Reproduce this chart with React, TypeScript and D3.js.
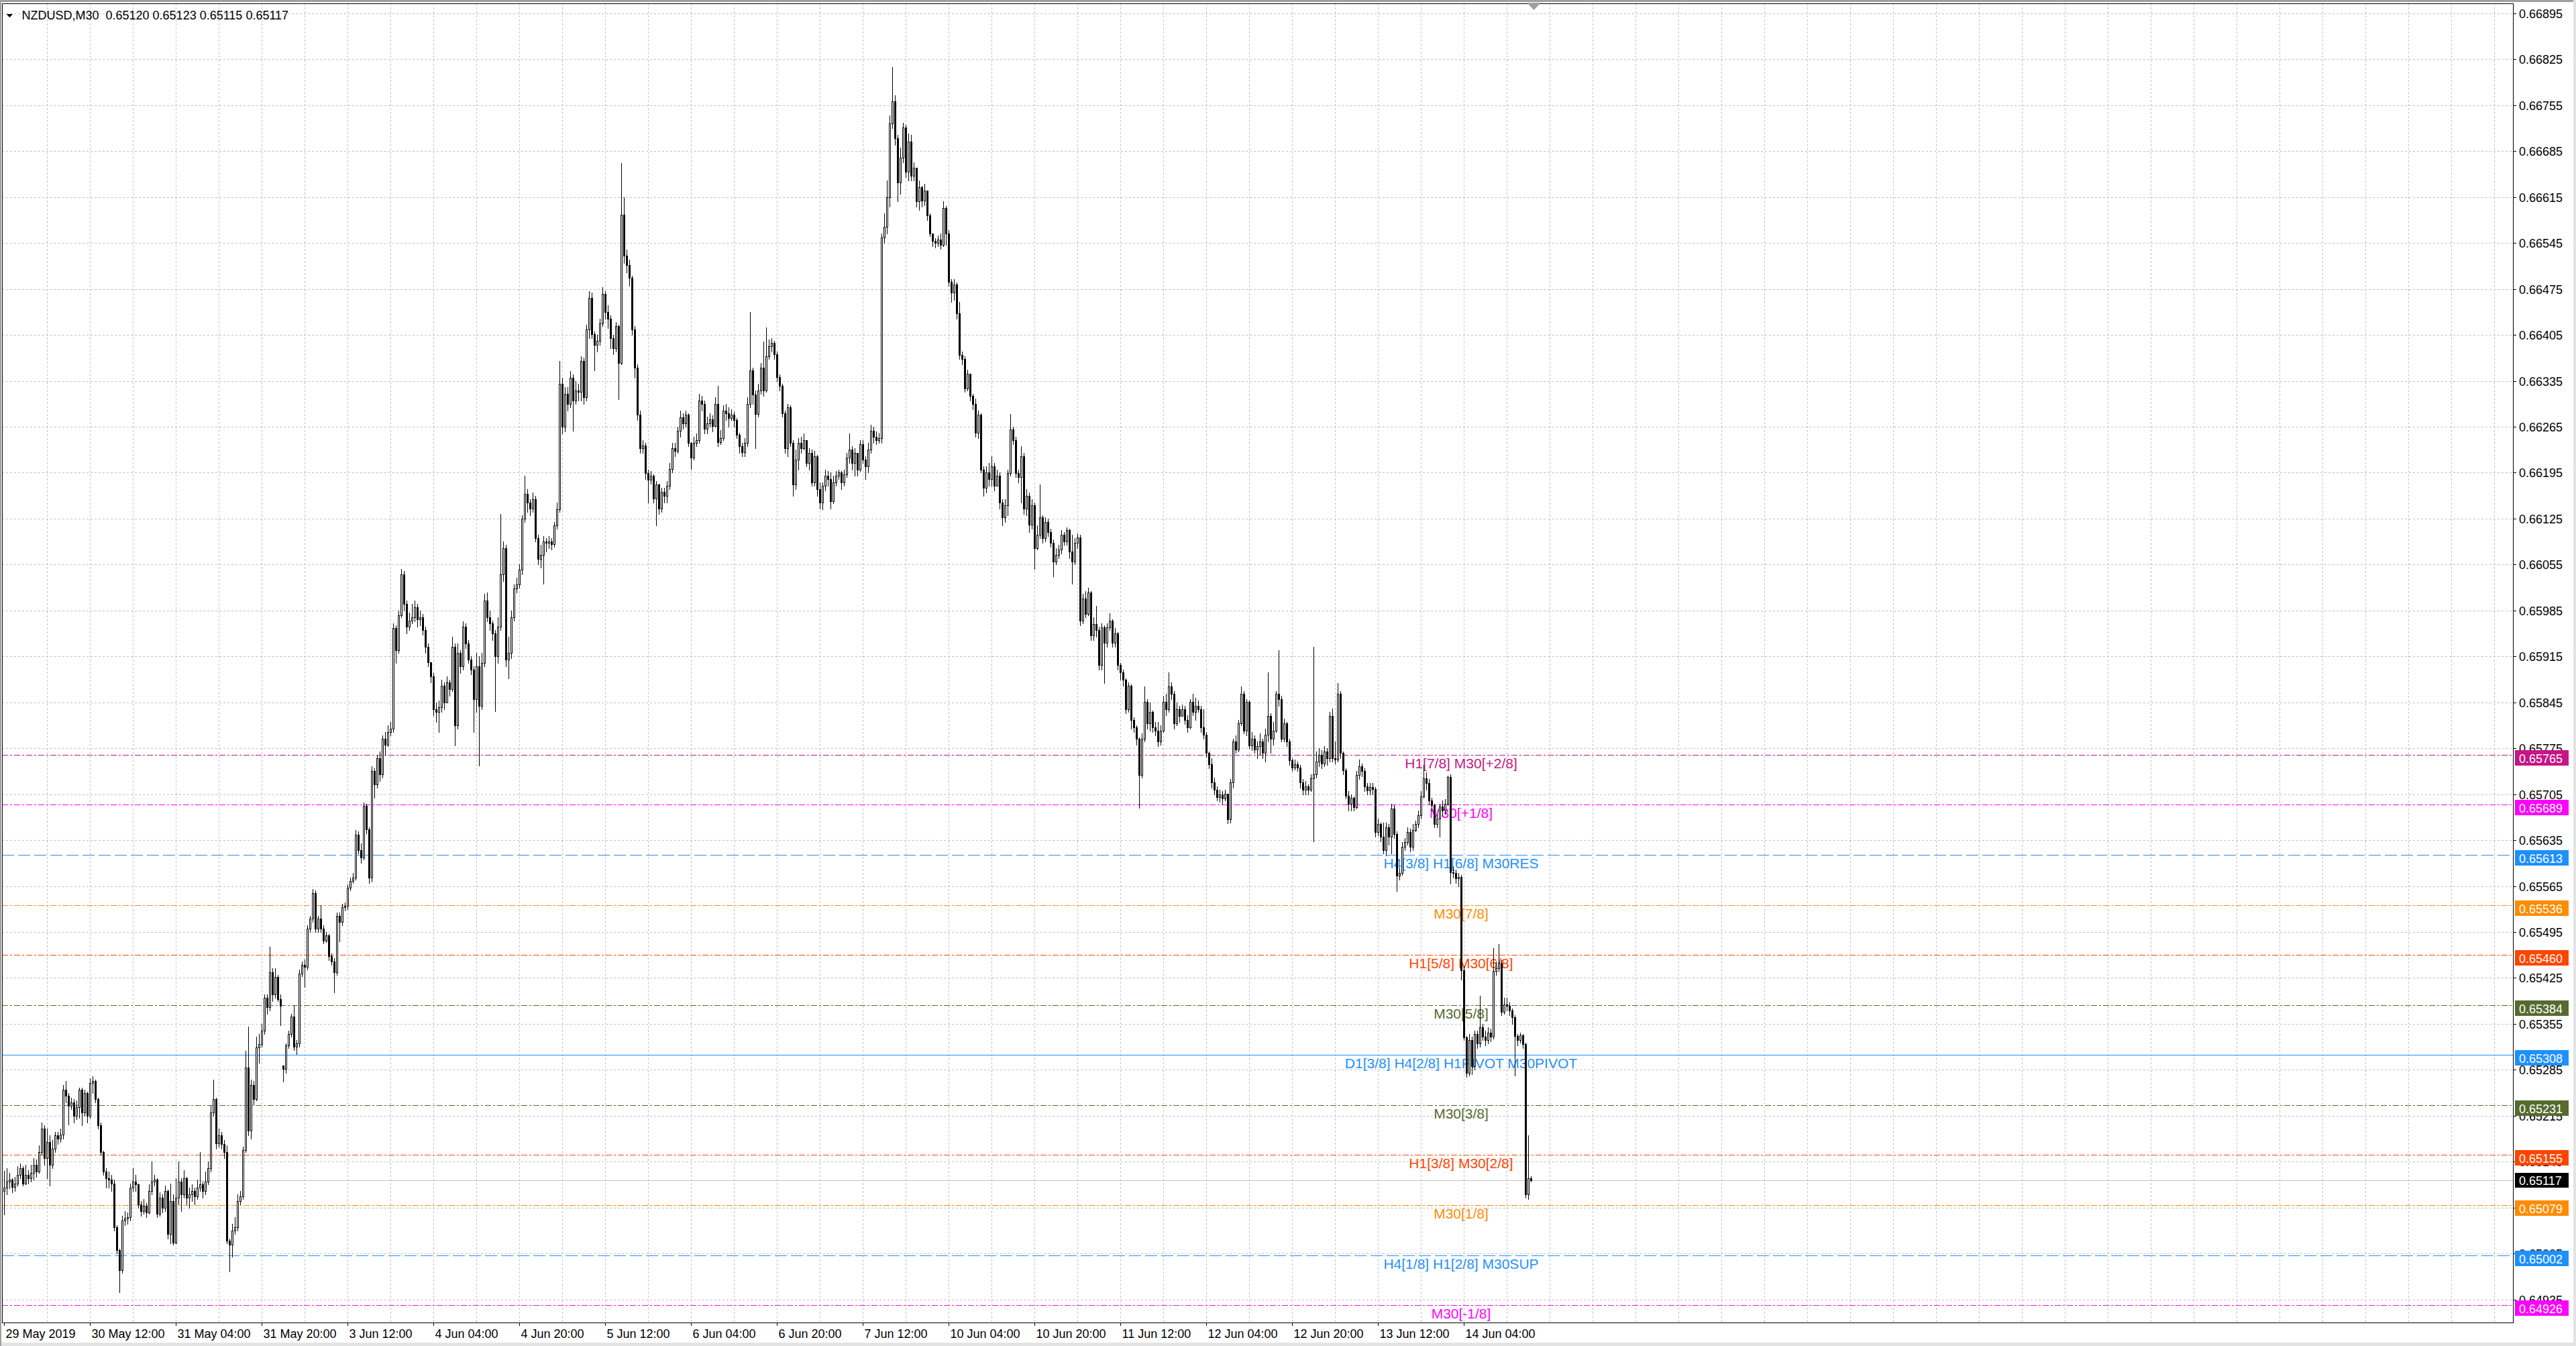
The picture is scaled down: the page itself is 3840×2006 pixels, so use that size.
import React from "react";
import * as d3 from "d3";

// ---- quote header ----
const symbol = "NZDUSD,M30";
const lastQuote = ["0.65120", "0.65123", "0.65115", "0.65117"];

// ---- M30 bars: [high, low, close] in points (0.00001) above 0.65000, one list per session ----
const BASE = 0.65;
const PT = 0.00001;
type HLC = [number, number, number];

const may29: HLC[] = [
  [131, 64, 105], [135, 95, 115], [128, 104, 118], [120, 98, 106], [122, 100, 112], [138, 108, 125], [142, 120, 135], [138, 108, 112],
];
const may30: HLC[] = [
  [140, 110, 125], [132, 112, 120], [140, 115, 128], [150, 118, 140], [148, 122, 130], [170, 128, 160], [205, 155, 195], [200, 140, 150],
  [195, 120, 175], [185, 108, 140], [178, 135, 165], [190, 160, 185], [190, 172, 180], [195, 175, 186], [262, 180, 255], [268, 235, 245],
  [250, 202, 230], [242, 225, 235], [240, 205, 215], [238, 210, 228], [258, 212, 255], [258, 200, 220], [255, 215, 250], [252, 205, 215],
  [272, 212, 265], [275, 250, 268], [270, 235, 240], [242, 195, 200], [205, 155, 160], [162, 125, 130], [135, 105, 120], [130, 105, 118],
  [125, 100, 112], [118, 40, 45], [48, 5, 10], [12, -54, -20], [62, -25, 55], [70, 48, 58], [68, 50, 60], [112, 55, 105],
  [135, 100, 115], [125, 100, 110], [112, 75, 80], [85, 62, 70], [88, 65, 78], [82, 60, 68], [110, 65, 100], [145, 95, 115],
];
const may31: HLC[] = [
  [125, 108, 118], [120, 60, 66], [98, 62, 90], [95, 68, 75], [108, 70, 100], [102, 28, 35], [112, 20, 85], [95, 18, 22],
  [120, 20, 90], [145, 80, 115], [120, 70, 95], [132, 90, 120], [122, 80, 90], [105, 75, 95], [110, 85, 100], [105, 80, 92],
  [118, 88, 105], [160, 100, 110], [115, 90, 100], [130, 95, 115], [145, 110, 135], [230, 130, 220], [270, 215, 240], [242, 165, 173],
  [195, 168, 185], [190, 165, 172], [178, 150, 160], [170, 20, 25], [28, -22, 18], [50, 0, 40], [60, 35, 45], [95, 40, 85],
  [100, 80, 92], [168, 88, 163], [314, 160, 288], [351, 185, 192], [270, 180, 262], [268, 232, 240], [335, 238, 319], [340, 296, 324],
  [355, 320, 345], [400, 340, 395], [400, 370, 380], [473, 375, 434], [440, 390, 400], [440, 395, 426], [430, 390, 393], [400, 353, 382],
];
const jun03: HLC[] = [
  [292, 267, 286], [325, 280, 322], [345, 318, 340], [370, 335, 366], [382, 315, 320], [330, 309, 325], [438, 320, 432], [450, 428, 445],
  [453, 411, 442], [505, 438, 500], [520, 495, 515], [560, 510, 554], [558, 495, 500], [520, 495, 515], [536, 495, 500], [505, 478, 482],
  [495, 480, 490], [492, 452, 458], [462, 445, 450], [455, 403, 434], [525, 430, 520], [525, 481, 510], [538, 505, 533], [540, 528, 535],
  [568, 530, 562], [578, 558, 573], [585, 570, 578], [650, 575, 643], [648, 615, 620], [630, 600, 609], [692, 605, 687], [690, 645, 651],
  [655, 570, 578], [748, 572, 740], [745, 700, 720], [765, 715, 760], [770, 725, 735], [795, 730, 790], [800, 765, 780], [810, 778, 800],
  [815, 795, 805], [965, 800, 958], [962, 905, 925], [985, 920, 978], [1048, 975, 1040], [1045, 985, 995], [1000, 950, 960], [982, 955, 970],
];
const jun04: HLC[] = [
  [995, 965, 975], [1000, 968, 990], [995, 960, 972], [985, 962, 975], [980, 948, 955], [960, 920, 930], [935, 900, 906], [905, 875, 885],
  [890, 825, 835], [845, 815, 830], [848, 800, 838], [880, 830, 870], [875, 835, 845], [885, 845, 875], [880, 855, 865], [945, 862, 930],
  [935, 779, 810], [935, 805, 920], [925, 890, 900], [968, 895, 960], [965, 928, 935], [940, 905, 910], [915, 888, 895], [900, 800, 850],
  [920, 830, 900], [915, 749, 840], [920, 835, 905], [1010, 900, 1000], [1012, 968, 975], [985, 955, 965], [970, 940, 950], [955, 831, 915],
  [975, 905, 960], [1132, 955, 1040], [1090, 1030, 1080], [1085, 900, 910], [945, 882, 920], [985, 912, 975], [1025, 970, 1019], [1035, 1012, 1025],
  [1055, 1020, 1047], [1130, 1040, 1125], [1190, 1120, 1163], [1170, 1135, 1150], [1155, 1130, 1140], [1165, 1135, 1155], [1160, 1090, 1095], [1100, 1055, 1064],
];
const jun05: HLC[] = [
  [1085, 1050, 1070], [1098, 1026, 1090], [1095, 1075, 1088], [1098, 1080, 1090], [1095, 1078, 1086], [1120, 1082, 1115], [1150, 1110, 1139], [1365, 1135, 1331],
  [1340, 1255, 1265], [1325, 1258, 1315], [1325, 1290, 1300], [1350, 1295, 1340], [1345, 1259, 1305], [1335, 1300, 1320], [1330, 1305, 1318], [1372, 1305, 1365],
  [1370, 1300, 1310], [1420, 1305, 1413], [1472, 1400, 1461], [1470, 1400, 1406], [1410, 1351, 1390], [1405, 1380, 1396], [1430, 1390, 1423], [1478, 1418, 1468],
  [1472, 1430, 1440], [1450, 1415, 1430], [1435, 1385, 1400], [1405, 1375, 1385], [1425, 1380, 1418], [1420, 1307, 1362], [1667, 1360, 1588], [1615, 1515, 1526],
  [1535, 1500, 1512], [1520, 1480, 1492], [1495, 1405, 1413], [1418, 1340, 1355], [1360, 1275, 1283], [1290, 1225, 1232], [1245, 1225, 1236], [1240, 1185, 1194],
  [1200, 1150, 1184], [1198, 1178, 1190], [1192, 1150, 1156], [1182, 1115, 1177], [1178, 1132, 1140], [1172, 1135, 1166], [1172, 1150, 1160], [1182, 1150, 1175],
];
const jun06: HLC[] = [
  [1210, 1170, 1201], [1240, 1195, 1232], [1240, 1220, 1228], [1265, 1225, 1259], [1290, 1250, 1279], [1285, 1262, 1270], [1290, 1265, 1283], [1285, 1235, 1240],
  [1242, 1201, 1218], [1250, 1215, 1240], [1255, 1235, 1245], [1315, 1240, 1305], [1312, 1290, 1300], [1305, 1255, 1262], [1280, 1255, 1270], [1285, 1265, 1276],
  [1282, 1258, 1266], [1310, 1265, 1300], [1327, 1235, 1242], [1260, 1238, 1248], [1298, 1245, 1290], [1300, 1275, 1286], [1295, 1265, 1278], [1292, 1275, 1283],
  [1288, 1265, 1275], [1278, 1248, 1253], [1256, 1225, 1235], [1240, 1220, 1226], [1248, 1220, 1240], [1310, 1235, 1300], [1440, 1295, 1351], [1355, 1300, 1314],
  [1320, 1232, 1284], [1330, 1280, 1320], [1362, 1315, 1355], [1395, 1312, 1320], [1416, 1318, 1372], [1398, 1368, 1388], [1400, 1380, 1393], [1396, 1368, 1375],
  [1380, 1335, 1341], [1345, 1320, 1327], [1330, 1280, 1286], [1290, 1225, 1232], [1300, 1220, 1295], [1298, 1235, 1240], [1245, 1160, 1177], [1230, 1170, 1215],
];
const jun07: HLC[] = [
  [1248, 1200, 1240], [1250, 1225, 1232], [1255, 1230, 1245], [1240, 1205, 1210], [1232, 1200, 1225], [1230, 1175, 1180], [1228, 1175, 1220], [1222, 1160, 1170],
  [1180, 1140, 1150], [1180, 1139, 1175], [1200, 1168, 1190], [1198, 1175, 1185], [1195, 1140, 1152], [1190, 1148, 1180], [1198, 1175, 1190], [1200, 1185, 1195],
  [1198, 1170, 1180], [1200, 1175, 1192], [1225, 1188, 1218], [1255, 1210, 1230], [1235, 1200, 1210], [1232, 1190, 1225], [1225, 1190, 1200], [1245, 1198, 1238],
  [1245, 1210, 1215], [1220, 1185, 1205], [1240, 1195, 1230], [1268, 1225, 1259], [1265, 1240, 1250], [1258, 1238, 1245], [1255, 1240, 1248], [1560, 1240, 1553],
  [1590, 1545, 1570], [1640, 1560, 1615], [1740, 1600, 1727], [1813, 1720, 1761], [1770, 1695, 1705], [1710, 1609, 1637], [1690, 1620, 1675], [1728, 1668, 1721],
  [1725, 1645, 1654], [1712, 1640, 1700], [1710, 1640, 1648], [1668, 1640, 1660], [1645, 1600, 1609], [1640, 1595, 1630], [1632, 1600, 1610], [1635, 1603, 1625],
];
const jun10: HLC[] = [
  [1612, 1580, 1587], [1590, 1555, 1560], [1560, 1540, 1548], [1552, 1538, 1545], [1556, 1540, 1550], [1560, 1536, 1542], [1609, 1540, 1598], [1602, 1542, 1560],
  [1565, 1480, 1486], [1490, 1455, 1470], [1490, 1458, 1482], [1485, 1430, 1438], [1455, 1368, 1374], [1380, 1360, 1368], [1372, 1318, 1323], [1352, 1320, 1346],
  [1345, 1305, 1312], [1315, 1292, 1300], [1308, 1250, 1256], [1290, 1248, 1283], [1286, 1195, 1200], [1205, 1160, 1172], [1205, 1165, 1195], [1210, 1175, 1185],
  [1220, 1175, 1205], [1210, 1168, 1175], [1200, 1175, 1190], [1195, 1140, 1149], [1155, 1115, 1127], [1155, 1120, 1145], [1200, 1130, 1194], [1284, 1190, 1261],
  [1265, 1238, 1245], [1250, 1188, 1194], [1200, 1180, 1188], [1235, 1150, 1220], [1225, 1132, 1140], [1170, 1130, 1160], [1165, 1105, 1116], [1155, 1110, 1145],
  [1150, 1048, 1080], [1115, 1078, 1100], [1177, 1095, 1127], [1130, 1088, 1095], [1127, 1090, 1120], [1125, 1098, 1104], [1110, 1082, 1088], [1093, 1037, 1060],
];
const jun11: HLC[] = [
  [1080, 1055, 1070], [1085, 1065, 1078], [1108, 1072, 1100], [1105, 1085, 1090], [1112, 1085, 1108], [1110, 1065, 1075], [1100, 1026, 1060], [1095, 1055, 1088],
  [1102, 1080, 1096], [1100, 962, 970], [1010, 965, 1003], [1015, 975, 980], [1020, 978, 1012], [1015, 940, 947], [975, 940, 964], [992, 945, 955],
  [960, 895, 902], [965, 895, 959], [962, 874, 936], [965, 930, 959], [981, 955, 970], [972, 930, 936], [958, 930, 950], [952, 895, 902],
  [905, 880, 891], [895, 870, 880], [882, 828, 835], [875, 830, 870], [872, 805, 818], [822, 800, 807], [810, 780, 790], [792, 684, 734],
  [798, 730, 790], [869, 785, 846], [850, 805, 813], [845, 802, 830], [832, 800, 807], [815, 795, 802], [815, 778, 785], [810, 780, 802],
  [855, 800, 846], [858, 825, 835], [891, 830, 869], [875, 850, 858], [862, 805, 813], [845, 810, 835], [840, 815, 824], [842, 825, 835],
];
const jun12: HLC[] = [
  [840, 812, 818], [825, 800, 807], [850, 805, 846], [858, 825, 830], [852, 818, 840], [848, 830, 835], [840, 800, 807], [835, 790, 796],
  [800, 762, 768], [770, 745, 751], [760, 715, 723], [730, 705, 712], [717, 695, 701], [712, 693, 705], [710, 690, 698], [712, 695, 706],
  [700, 661, 667], [728, 662, 723], [790, 715, 785], [795, 768, 773], [818, 770, 813], [869, 810, 858], [862, 798, 802], [850, 795, 846],
  [848, 775, 779], [800, 772, 790], [795, 768, 773], [785, 760, 778], [798, 765, 785], [790, 760, 768], [805, 755, 796], [891, 785, 824],
  [828, 768, 790], [815, 780, 802], [862, 800, 858], [925, 840, 850], [855, 785, 790], [820, 785, 813], [815, 778, 785], [790, 750, 757],
  [760, 740, 746], [758, 742, 751], [755, 740, 746], [750, 715, 723], [728, 705, 712], [725, 705, 717], [720, 705, 712], [735, 710, 729],
];
const jun13: HLC[] = [
  [930, 633, 735], [770, 730, 755], [775, 748, 765], [772, 745, 752], [778, 748, 770], [775, 750, 760], [830, 755, 824], [836, 755, 760],
  [785, 752, 758], [874, 755, 858], [862, 760, 768], [770, 735, 741], [745, 698, 703], [710, 680, 690], [705, 680, 700], [702, 680, 685],
  [740, 683, 734], [758, 728, 748], [752, 732, 740], [745, 710, 717], [722, 705, 711], [722, 705, 716], [722, 705, 713], [716, 640, 647],
  [668, 642, 660], [662, 633, 640], [662, 615, 620], [662, 612, 655], [660, 628, 640], [690, 615, 683], [688, 638, 644], [648, 557, 581],
  [592, 575, 585], [632, 582, 625], [638, 620, 632], [655, 628, 647], [652, 618, 625], [660, 620, 650], [665, 648, 660], [680, 655, 673],
  [710, 668, 702], [750, 700, 729], [738, 712, 722], [728, 690, 695], [700, 680, 688], [690, 655, 660], [675, 655, 668], [690, 640, 686],
];
const jun14: HLC[] = [
  [695, 672, 680], [697, 675, 690], [733, 688, 731], [735, 569, 586], [595, 578, 585], [590, 570, 577], [585, 565, 579], [582, 422, 437],
  [443, 330, 334], [336, 274, 280], [340, 276, 330], [335, 278, 290], [345, 285, 340], [345, 318, 325], [398, 320, 350], [355, 330, 335],
  [345, 322, 330], [350, 325, 342], [348, 328, 335], [470, 332, 436], [450, 430, 440], [477, 435, 448], [452, 368, 373], [395, 370, 385],
  [395, 375, 382], [388, 368, 375], [378, 355, 365], [368, 276, 336], [340, 322, 330], [342, 326, 338], [340, 318, 324], [326, 90, 95],
  [185, 88, 120], [123, 115, 117],
];

const sessionDates = [
  "2019-05-29", "2019-05-30", "2019-05-31", "2019-06-03", "2019-06-04", "2019-06-05", "2019-06-06",
  "2019-06-07", "2019-06-10", "2019-06-11", "2019-06-12", "2019-06-13", "2019-06-14",
];
const sessionBars = [may29, may30, may31, jun03, jun04, jun05, jun06, jun07, jun10, jun11, jun12, jun13, jun14];
const firstBarHour = 20;
// bars whose open differs from the previous close (first bar, Monday gap): [bar, open points]
const gapOpens: [number, number][] = [[0, 100], [104, 291]];

// ---- price axis ticks ----
const priceTicks = [
  0.66895, 0.66825, 0.66755, 0.66685, 0.66615, 0.66545, 0.66475, 0.66405, 0.66335, 0.66265,
  0.66195, 0.66125, 0.66055, 0.65985, 0.65915, 0.65845, 0.65775, 0.65705, 0.65635, 0.65565,
  0.65495, 0.65425, 0.65355, 0.65285, 0.65215, 0.65145, 0.65075, 0.65005, 0.64935,
];

// ---- Murrey-math levels ----
const levelPrices = [0.65765, 0.65689, 0.65613, 0.65536, 0.6546, 0.65384, 0.65308, 0.65231, 0.65155, 0.65079, 0.65002, 0.64926];
const levelNames = [
  "H1[7/8] M30[+2/8]", "M30[+1/8]", "H4[3/8] H1[6/8] M30RES", "M30[7/8]", "H1[5/8] M30[6/8]", "M30[5/8]",
  "D1[3/8] H4[2/8] H1PIVOT M30PIVOT", "M30[3/8]", "H1[3/8] M30[2/8]", "M30[1/8]", "H4[1/8] H1[2/8] M30SUP", "M30[-1/8]",
];
const bidPrice = 0.65117;

// ---- drawing styles ----
const W = 3840;
const H = 2006;
const plotL = 3;
const plotR = 3746;
const plotT = 5;
const plotB = 1971;
const DASHDOT = "9,3,3,3";
const DASH = "18,6";
const levelStyle: { color: string; dash: string | undefined }[] = [
  { color: "#C71585", dash: DASHDOT },
  { color: "#FF00FF", dash: DASHDOT },
  { color: "#1E90FF", dash: DASH },
  { color: "#FF8C00", dash: DASHDOT },
  { color: "#FF4500", dash: DASHDOT },
  { color: "#556B2F", dash: DASHDOT },
  { color: "#1E90FF", dash: undefined },
  { color: "#556B2F", dash: DASHDOT },
  { color: "#FF4500", dash: DASHDOT },
  { color: "#FF8C00", dash: DASHDOT },
  { color: "#1E90FF", dash: DASH },
  { color: "#FF00FF", dash: DASHDOT },
];
const axisFont = "'Liberation Sans', Arial, sans-serif";
const labelBar = 543;

type Bar = { i: number; t: Date; o: number; h: number; l: number; c: number };

function buildBars(): Bar[] {
  const gaps = new Map(gapOpens);
  const out: Bar[] = [];
  sessionBars.forEach((list, d) => {
    const start = new Date(sessionDates[d] + "T00:00:00Z").getTime() + (d === 0 ? firstBarHour * 3600000 : 0);
    list.forEach(([h, l, c], k) => {
      const i = out.length;
      const oPts = gaps.has(i) ? (gaps.get(i) as number) : Math.round((out[i - 1].c - BASE) / PT);
      const o = BASE + oPts * PT;
      const cc = BASE + c * PT;
      out.push({
        i,
        t: new Date(start + k * 1800000),
        o,
        c: cc,
        h: Math.max(BASE + h * PT, o, cc),
        l: Math.min(BASE + l * PT, o, cc),
      });
    });
  });
  return out;
}

export default function App() {
  const bars = buildBars();
  const x = d3.scaleLinear().domain([0, 1]).range([6, 10]);
  const y = d3.scaleLinear().domain([0.64935, 0.66895]).range([1936.6, 20]);
  const py = (p: number) => Math.round(y(p)) + 0.5;

  const fmtFirst = d3.utcFormat("%-d %b %Y");
  const fmt = d3.utcFormat("%-d %b %H:%M");
  const timeTicks = bars.filter((b) => b.i % 32 === 0);

  const vGrid = d3.range(16, 2000, 16).map((i) => Math.round(x(i)) + 0.5).filter((v) => v < plotR - 2);

  return (
    <svg
      width={W}
      height={H}
      style={{ position: "absolute", left: 0, top: 0, display: "block", background: "#fff" }}
      shapeRendering="crispEdges"
    >
      {/* window frame */}
      <rect x={0} y={0} width={W} height={H} fill="#fff" />
      <rect x={0} y={0} width={W} height={3} fill="#A0A0A0" />
      <rect x={0} y={2001} width={W} height={5} fill="#E3E3E3" />
      <rect x={3836} y={0} width={4} height={H} fill="#E3E3E3" />
      <rect x={0} y={0} width={2} height={H} fill="#A0A0A0" />

      {/* grid */}
      <g stroke="#C0C0C0" strokeWidth={1} strokeDasharray="3,3">
        {priceTicks.map((p) => (
          <line key={"h" + p} x1={plotL} x2={plotR} y1={py(p)} y2={py(p)} />
        ))}
        {vGrid.map((v) => (
          <line key={"v" + v} x1={v} x2={v} y1={plotT} y2={plotB} />
        ))}
      </g>

      {/* level lines */}
      {levelPrices.map((p, k) => (
        <line
          key={"lv" + k}
          x1={plotL}
          x2={plotR}
          y1={py(p)}
          y2={py(p)}
          stroke={levelStyle[k].color}
          strokeWidth={1}
          strokeDasharray={levelStyle[k].dash}
        />
      ))}
      <line x1={plotL} x2={plotR} y1={py(bidPrice)} y2={py(bidPrice)} stroke="#C0C0C0" strokeWidth={1} />

      {/* level labels */}
      <g fontFamily="'Liberation Sans', Arial, sans-serif" fontSize={21} textAnchor="middle" shapeRendering="auto">
        {levelPrices.map((p, k) => (
          <text key={"lt" + k} x={x(labelBar)} y={Math.round(y(p)) + 19.5} fill={levelStyle[k].color}>
            {levelNames[k]}
          </text>
        ))}
      </g>

      {/* candles */}
      <g>
        {bars.map((b) => {
          const xc = Math.round(x(b.i));
          const yh = Math.round(y(b.h));
          const yl = Math.round(y(b.l));
          const yo = Math.round(y(b.o));
          const yc = Math.round(y(b.c));
          const top = Math.min(yo, yc);
          const bot = Math.max(yo, yc);
          const bull = b.c > b.o;
          return (
            <g key={"c" + b.i}>
              <line x1={xc + 0.5} x2={xc + 0.5} y1={yh} y2={yl + 1} stroke="#000" strokeWidth={1} />
              {bull ? (
                <rect x={xc - 0.5} y={top + 0.5} width={2} height={Math.max(bot - top, 1)} fill="#fff" stroke="#000" strokeWidth={1} />
              ) : (
                <rect x={xc - 1} y={top} width={3} height={Math.max(bot - top + 1, 1)} fill="#000" />
              )}
            </g>
          );
        })}
      </g>

      {/* plot frame */}
      <line x1={plotL + 0.5} x2={plotL + 0.5} y1={plotT} y2={plotB + 1} stroke="#000" />
      <line x1={plotL} x2={plotR + 1} y1={plotT + 0.5} y2={plotT + 0.5} stroke="#000" />
      <line x1={plotR + 0.5} x2={plotR + 0.5} y1={plotT} y2={plotB + 1} stroke="#000" />
      <line x1={plotL} x2={plotR + 1} y1={plotB + 0.5} y2={plotB + 0.5} stroke="#000" />

      {/* chart shift marker */}
      <polygon points="2276,4 2297,4 2286.5,15" fill="#A0A0A0" shapeRendering="auto" />

      {/* header */}
      <polygon points="9.6,21 19.1,21 14.35,26" fill="#000" shapeRendering="auto" />
      <text x={32.5} y={29} fontFamily={axisFont} fontSize={18} fill="#000" style={{ whiteSpace: "pre" }}>
        {symbol + "  " + lastQuote.join(" ")}
      </text>

      {/* price axis */}
      <g fontFamily={axisFont} fontSize={18} fill="#000">
        {priceTicks.map((p) => (
          <g key={"pt" + p}>
            <line x1={plotR} x2={plotR + 5} y1={py(p)} y2={py(p)} stroke="#000" />
            <text x={3755} y={Math.round(y(p)) + 7}>
              {p.toFixed(5)}
            </text>
          </g>
        ))}
      </g>

      {/* level price tags */}
      <g fontFamily={axisFont} fontSize={18}>
        {levelPrices.map((p, k) => {
          const ly = Math.round(y(p));
          return (
            <g key={"tag" + k}>
              <rect x={3749} y={ly - 7} width={80} height={23} fill={levelStyle[k].color} />
              <text x={3755} y={ly + 12} fill="#fff">
                {p.toFixed(5)}
              </text>
            </g>
          );
        })}
        <rect x={3749} y={Math.round(y(bidPrice)) - 11} width={80} height={22} fill="#000" />
        <text x={3755} y={Math.round(y(bidPrice)) + 7} fill="#fff">
          {bidPrice.toFixed(5)}
        </text>
      </g>

      {/* time axis */}
      <g fontFamily={axisFont} fontSize={18} fill="#000">
        {timeTicks.map((b) => {
          const tx = Math.round(x(b.i)) + 0.5;
          return (
            <g key={"tt" + b.i}>
              <line x1={tx} x2={tx} y1={plotB} y2={plotB + 5} stroke="#000" />
              <text x={tx + 2} y={1994}>
                {b.i === 0 ? fmtFirst(b.t) : fmt(b.t)}
              </text>
            </g>
          );
        })}
      </g>
    </svg>
  );
}
